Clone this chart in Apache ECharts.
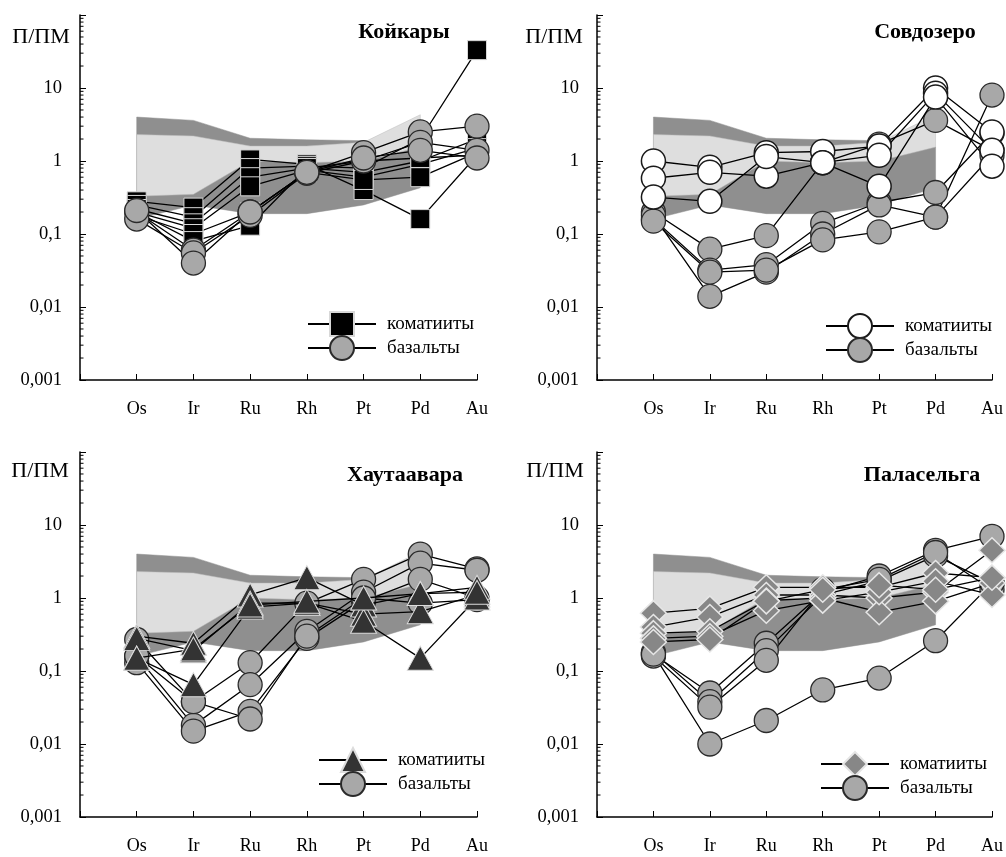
<!DOCTYPE html>
<html><head><meta charset="utf-8">
<script src="https://cdn.jsdelivr.net/npm/echarts@6/dist/echarts.min.js"></script>
<style>html,body{margin:0;padding:0;background:#fff}#c{width:1006px;height:857px}</style>
</head><body><div id="c"></div><script>
// ---------- data ----------
const elements = ['Os','Ir','Ru','Rh','Pt','Pd','Au'];
const yTickLabels = ['0,001','0,01','0,1','1','10',''];
const minorTickValues = [0.002,0.003,0.004,0.005,0.006,0.007,0.008,0.009,
  0.02,0.03,0.04,0.05,0.06,0.07,0.08,0.09,
  0.2,0.3,0.4,0.5,0.6,0.7,0.8,0.9,
  2,3,4,5,6,7,8,9,
  20,30,40,50,60,70,80,90];
// reference fields, Os..Pd
const darkFieldLow  = [0.16,0.25,0.19,0.19,0.25,0.43];
const darkFieldHigh = [4.0,3.6,2.05,1.95,1.9,1.55];
const lightFieldLow = [0.33,0.35,1.0,0.95,1.0,1.55];
const lightFieldHigh= [2.3,2.2,1.6,1.6,1.8,4.3];

const panelTitles = ['Койкары','Совдозеро','Хаутаавара','Паласельга'];
const legendKomatiite = 'коматииты';
const legendBasalt = 'базальты';
const axisName = 'П/ПМ';

// Койкары
const koikaryKomatiites = [
  [0.28,0.23,1.05,0.9,0.4,0.16,1.2],
  [0.25,0.17,0.8,0.85,0.8,2.0,33],
  [0.22,0.14,0.6,0.8,0.7,1.0,2.0],
  [0.2,0.12,0.45,0.75,0.6,0.9,1.5],
  [0.18,0.1,0.2,0.7,0.55,0.6,1.3],
  [0.2,0.08,0.13,0.8,1.0,1.1,1.2]
];
const koikaryBasalts = [
  [0.2,0.06,0.2,0.7,1.3,2.5,3.0],
  [0.16,0.055,0.18,0.68,1.0,1.8,1.4],
  [0.21,0.04,0.2,0.7,1.1,1.4,1.1]
];
// Совдозеро
const sovdozeroKomatiites = [
  [1.0,0.82,1.3,1.35,1.6,10,2.5],
  [0.58,0.7,0.62,0.95,1.2,8.5,1.4],
  [0.32,0.28,1.15,0.95,0.45,7.5,0.85]
];
const sovdozeroBasalts = [
  [0.2,0.062,0.095,0.95,1.7,3.6,1.4],
  [0.16,0.032,0.038,0.14,0.27,0.37,2.4],
  [0.18,0.014,0.03,0.1,0.25,0.17,8.0],
  [0.15,0.03,0.032,0.083,0.107,0.17,1.2]
];
// Хаутаавара
const khautaavaraKomatiites = [
  [0.3,0.24,1.1,1.9,0.8,1.15,1.4],
  [0.28,0.19,0.85,0.85,0.6,0.65,1.1],
  [0.15,0.065,0.75,0.85,0.48,0.15,1.0],
  [0.15,0.2,0.8,0.9,1.0,1.15,1.2]
];
const khautaavaraBasalts = [
  [0.27,0.038,0.13,0.85,1.8,4.0,2.5],
  [0.16,0.018,0.065,0.35,1.2,3.0,2.4],
  [0.13,0.015,0.028,0.28,0.9,1.8,1.0],
  [0.16,0.038,0.022,0.3,1.0,0.85,0.95]
];
// Паласельга
const palaselgaKomatiites = [
  [0.62,0.72,1.4,1.4,1.4,2.2,1.9],
  [0.4,0.55,1.1,1.1,1.0,1.2,4.5],
  [0.33,0.35,0.92,1.0,0.64,0.9,1.6],
  [0.28,0.3,0.67,0.92,1.2,1.7,1.1],
  [0.25,0.27,0.9,1.3,1.5,1.3,1.9]
];
const palaselgaBasalts = [
  [0.17,0.05,0.24,1.2,2.0,4.5,7.0],
  [0.18,0.038,0.19,1.1,1.7,3.8,1.6],
  [0.16,0.032,0.14,1.3,1.8,4.2,1.3],
  [0.17,0.01,0.021,0.055,0.08,0.26,1.6]
];

// ---------- styles ----------
const FONT = 'Liberation Serif';
const grids = [
  {left:80, top:15, width:397, height:365},
  {left:597, top:15, width:396, height:365},
  {left:80, top:452, width:397, height:365},
  {left:597, top:452, width:396, height:365}
];
const symStyles = {
  square:  {symbol:'rect', symbolSize:19, itemStyle:{color:'#000', borderColor:'#d8d8d8', borderWidth:1}},
  white:   {symbol:'circle', symbolSize:24, itemStyle:{color:'#fff', borderColor:'#1a1a1a', borderWidth:1.5}},
  grey:    {symbol:'circle', symbolSize:24, itemStyle:{color:'#a8a8a8', borderColor:'#2a2a2a', borderWidth:1.3}},
  tri:     {symbol:'triangle', symbolSize:[26,24], itemStyle:{color:'#333', borderColor:'#dcdcdc', borderWidth:1}},
  diamond: {symbol:'diamond', symbolSize:[26,25], itemStyle:{color:'#878787', borderColor:'#e6e6e6', borderWidth:1.5}}
};
const panels = [
  {kom:koikaryKomatiites, bas:koikaryBasalts, komSym:'square', komTop:false, legend:{left:302, top:306}},
  {kom:sovdozeroKomatiites, bas:sovdozeroBasalts, komSym:'white', komTop:true, legend:{left:820, top:308}},
  {kom:khautaavaraKomatiites, bas:khautaavaraBasalts, komSym:'tri', komTop:true, legend:{left:313, top:742}},
  {kom:palaselgaKomatiites, bas:palaselgaBasalts, komSym:'diamond', komTop:true, legend:{left:815, top:746}}
];

const xAxes = [], yAxes = [], series = [], legends = [], graphics = [];

grids.forEach((g, gi) => {
  xAxes.push({type:'value', gridIndex:gi, min:-1, max:6, interval:1,
    axisLine:{onZero:false, lineStyle:{color:'#000', width:1.5}},
    axisTick:{inside:true, length:6, lineStyle:{color:'#000', width:1}},
    splitLine:{show:false},
    axisLabel:{formatter:v => elements[v] || '', margin:20, fontFamily:FONT, fontSize:18, color:'#000'}
  });
  yAxes.push({type:'log', logBase:10, gridIndex:gi, min:0.001, max:100,
    axisLine:{show:true, onZero:false, lineStyle:{color:'#000', width:1.5}},
    axisTick:{inside:true, length:6, lineStyle:{color:'#000', width:1}},
    splitLine:{show:false},
    axisLabel:{formatter:v => yTickLabels[Math.round(Math.log10(v)) + 3], margin:18, fontFamily:FONT, fontSize:18.5, color:'#000'}
  });
  // reference fields
  series.push({type:'custom', xAxisIndex:gi, yAxisIndex:gi, silent:true, z:1, animation:false,
    data: darkFieldLow.map((v,i) => [i, darkFieldLow[i], darkFieldHigh[i], lightFieldLow[i], lightFieldHigh[i]]),
    encode:{x:0, y:[1,2,3,4]},
    renderItem:(params, api) => {
      if (params.dataIndexInside !== 0) return null;
      const n = params.dataInsideLength;
      const poly = (lo, hi) => {
        const pts = [];
        for (let i = 0; i < n; i++) pts.push(api.coord([api.value(0,i), api.value(hi,i)]));
        for (let i = n-1; i >= 0; i--) pts.push(api.coord([api.value(0,i), api.value(lo,i)]));
        return pts;
      };
      return {type:'group', children:[
        {type:'polygon', shape:{points:poly(1,2)}, style:{fill:'#8f8f8f', stroke:'#8f8f8f', lineWidth:0.5}},
        {type:'polygon', shape:{points:poly(3,4)}, style:{fill:'#dedede', stroke:'#bdbdbd', lineWidth:0.5}}
      ]};
    }
  });
  // minor log ticks
  series.push({type:'custom', xAxisIndex:gi, yAxisIndex:gi, silent:true, z:10, animation:false,
    data: minorTickValues.map(v => [-1, v]),
    renderItem:(params, api) => {
      const c = api.coord([api.value(0), api.value(1)]);
      return {type:'line', shape:{x1:c[0], y1:c[1], x2:c[0]+3.5, y2:c[1]}, style:{stroke:'#000', lineWidth:1}};
    }
  });

  const p = panels[gi];
  const komName = legendKomatiite + '|' + gi;
  const basName = legendBasalt + '|' + gi;
  const mk = (vals, name, sym, z) => Object.assign({
    type:'line', name:name, xAxisIndex:gi, yAxisIndex:gi, z:z, animation:false,
    data: vals.map((v,i) => [i, v]),
    lineStyle:{color:'#000', width:1.3}, emphasis:{disabled:true}
  }, symStyles[sym]);
  const komSeries = p.kom.map(v => mk(v, komName, p.komSym, p.komTop ? 4 : 3));
  const basSeries = p.bas.map(v => mk(v, basName, 'grey', p.komTop ? 3 : 4));
  if (p.komTop) { series.push(...basSeries, ...komSeries); }
  else { series.push(...komSeries, ...basSeries); }

  legends.push({orient:'vertical', left:p.legend.left, top:p.legend.top, itemWidth:68, itemHeight:30, itemGap:-2,
    selectedMode:false, data:[komName, basName], formatter:n => n.split('|')[0],
    textStyle:{fontFamily:FONT, fontSize:19, color:'#000', padding:[0,0,0,6]}
  });
});

// titles and axis names
const titlePos = [[404,32],[925,32],[405,475],[922,475]];
const namePos = [[41,37],[554,37],[40,471],[555,471]];
panelTitles.forEach((t, i) => {
  graphics.push({type:'text', x:titlePos[i][0], y:titlePos[i][1],
    style:{text:t, font:'bold 22px "Liberation Serif"', fill:'#000', textAlign:'center', textVerticalAlign:'middle'}});
  graphics.push({type:'text', x:namePos[i][0], y:namePos[i][1],
    style:{text:axisName, font:'22px "Liberation Serif"', fill:'#000', textAlign:'center', textVerticalAlign:'middle'}});
});

const chart = echarts.init(document.getElementById('c'), null, {renderer:'canvas'});
chart.setOption({
  backgroundColor:'#fff', animation:false,
  grid:grids, xAxis:xAxes, yAxis:yAxes, series:series, legend:legends, graphic:graphics
});
</script></body></html>
